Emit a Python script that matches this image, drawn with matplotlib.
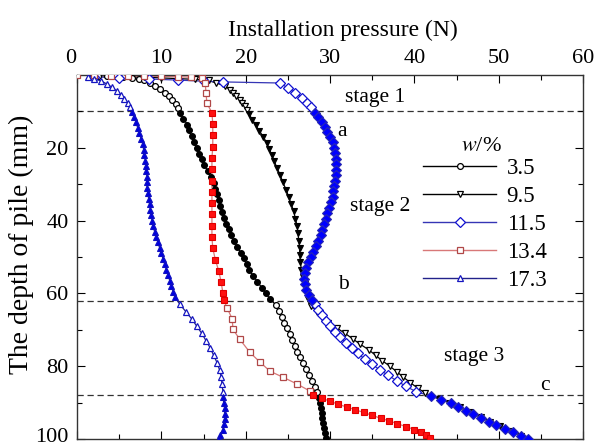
import matplotlib
matplotlib.use("Agg")
import matplotlib.pyplot as plt
from matplotlib.lines import Line2D
from matplotlib.transforms import ScaledTranslation
import numpy as np

plt.rcParams['font.family'] = ['Liberation Serif', 'DejaVu Serif']
plt.rcParams['mathtext.fontset'] = 'stix'

# ---- data: (depth mm, pressure N) ----
w_labels = ["3.5", "9.5", "11.5", "13.4", "17.3"]

d_35 = [0.2, 0.3, 0.4, 0.5, 0.7, 1.0, 1.5, 2.2, 3.0, 3.9, 4.9, 5.9, 7.0, 8.1, 9.2,
        10.4, 12.0, 13.6, 15.2, 16.8, 18.4, 20.0, 21.6, 23.2, 24.8, 26.4, 28.0, 29.6, 31.2,
        32.8, 34.4, 36.0, 37.6, 39.2, 40.8, 42.4, 44.0, 45.6, 47.2, 48.8, 50.4, 52.0, 53.6,
        55.2, 56.8, 58.4, 60.0, 61.6,
        63.2, 64.8, 66.4, 68.0, 69.6, 71.2, 72.8, 74.4, 76.0, 77.6, 79.2, 80.8, 82.4, 84.0,
        85.6, 87.2,
        88.6, 90.0, 91.4, 92.8, 94.2, 95.6, 97.0, 98.4, 99.8]
p_35 = [2.5, 3.5, 4.5, 5.5, 6.5, 7.3, 8.0, 8.7, 9.3, 9.9, 10.4, 10.9, 11.3, 11.7, 12.0,
        12.2, 12.6, 13.1, 13.3, 13.6, 13.9, 14.2, 14.5, 14.8, 15.1, 15.5, 15.9, 16.2, 16.4,
        16.6, 16.8, 17.0, 17.2, 17.4, 17.7, 18.0, 18.3, 18.6, 19.0, 19.4, 19.8, 20.1, 20.4,
        20.9, 21.4, 21.9, 22.4, 22.9,
        23.6, 23.9, 24.3, 24.6, 24.9, 25.2, 25.5, 25.8, 26.1, 26.5, 26.8, 27.2, 27.5, 27.9,
        28.2, 28.5,
        28.7, 28.8, 28.9, 29.0, 29.1, 29.2, 29.3, 29.4, 29.5]

d_95 = [0.3, 0.4, 0.6, 0.8, 1.0, 1.2, 1.5, 2.2, 3.0, 4.0, 4.9, 5.9, 6.8, 7.7, 8.6, 9.5,
        10.8, 12.3, 13.8, 15.3, 17.0, 18.7, 20.4, 22.0, 23.7, 25.5, 27.5, 29.5, 31.5, 33.5,
        35.5, 37.5, 39.5, 41.5, 43.5, 45.5, 47.5, 49.5, 51.5, 53.5, 55.5, 57.5, 59.5, 61.5,
        63.5, 65.0, 66.5, 68.0, 69.5, 71.0, 72.5, 74.0, 75.5, 77.0, 78.5, 80.0, 81.5, 83.0,
        84.5, 86.0, 87.4,
        89.0, 90.0, 91.3, 92.6, 93.9, 95.2, 96.5, 97.8, 99.1]
p_95 = [4.0, 6.0, 8.0, 10.0, 12.0, 14.0, 15.6, 16.5, 17.6, 18.1, 18.5, 18.9, 19.3, 19.6, 19.9, 20.2,
        20.4, 20.8, 21.2, 21.6, 22.1, 22.5, 22.8, 23.1, 23.4, 23.7, 24.1, 24.4, 24.8, 25.1,
        25.4, 25.7, 25.9, 26.1, 26.2, 26.3, 26.4, 26.4, 26.5, 26.6, 26.8, 27.0, 27.2, 27.4,
        27.8, 28.5, 29.1, 29.8, 30.8, 31.8, 32.7, 33.6, 34.6, 35.4, 36.2, 37.1, 37.9, 38.7,
        39.5, 40.4, 41.3,
        42.9, 44.1, 45.4, 46.6, 47.9, 49.0, 50.2, 51.5, 52.7]

d_115 = [0.5, 0.8, 1.1, 1.4, 1.7, 1.9, 2.2, 3.6, 4.9, 6.3, 7.7, 8.9,
         10.4, 11.6, 12.9, 14.2, 15.6, 17.0, 18.5, 20.0, 21.5, 23.0, 24.5, 26.0, 27.5, 29.0,
         30.5, 32.0, 33.5, 35.0, 36.5, 38.0, 39.5, 41.0, 42.5, 44.0, 45.5, 47.0, 48.5, 50.0,
         51.5, 53.0, 54.5, 56.0, 57.5, 59.0, 60.5, 61.8,
         63.0, 64.5, 66.0, 67.5, 69.0, 70.5, 72.0, 73.5, 75.0, 76.5, 78.0, 79.5, 81.0, 82.5,
         84.0, 85.5, 87.0,
         88.2, 89.2, 90.2, 91.2, 92.2, 93.2, 94.2, 95.2, 96.2, 97.2, 98.2, 99.2, 100.0]
p_115 = [2.0, 5.0, 8.5, 12.0, 15.0, 17.3, 24.1, 25.0, 25.9, 26.7, 27.3, 27.7,
         28.2, 28.6, 29.0, 29.4, 29.7, 30.0, 30.3, 30.5, 30.6, 30.7, 30.7, 30.7, 30.7, 30.6,
         30.5, 30.4, 30.3, 30.1, 29.9, 29.7, 29.5, 29.3, 29.1, 28.9, 28.6, 28.3, 28.0, 27.7,
         27.4, 27.2, 27.0, 26.9, 27.0, 27.2, 27.5, 27.9,
         28.2, 28.6, 29.0, 29.5, 30.0, 30.6, 31.2, 31.9, 32.6, 33.3, 34.1, 35.0, 35.9, 36.9,
         37.9, 39.0, 40.2,
         42.0, 43.2, 44.3, 45.2, 46.1, 47.0, 47.9, 48.8, 49.7, 50.7, 51.7, 52.7, 53.5]

d_134 = [0.0, 0.1, 0.2, 0.3, 0.3, 0.4, 0.5, 0.6, 0.8, 2.2, 4.9, 7.7,
         10.4, 13.5, 16.6, 19.7, 22.8, 25.9, 29.0, 32.1, 35.2, 38.3, 41.4, 44.5, 47.6, 50.7,
         53.8, 56.9, 60.0, 61.8,
         64.0, 67.0, 69.9, 72.6, 76.2, 78.9, 81.4, 83.0, 84.9, 86.8,
         88.0, 88.8, 89.6, 90.5, 91.2, 92.0, 92.7, 93.5, 94.3, 95.0, 95.8, 96.6, 97.4, 98.2,
         99.0, 99.6]
p_134 = [0.0, 2.0, 4.0, 6.0, 8.0, 10.0, 12.0, 13.5, 14.8, 15.2, 15.3, 15.4,
         16.0, 16.1, 16.1, 16.1, 16.0, 16.0, 16.0, 16.0, 16.0, 16.0, 16.0, 16.0, 16.1, 16.4,
         16.8, 17.1, 17.3, 17.4,
         17.8, 18.4, 18.5, 19.3, 20.5, 21.7, 22.9, 24.4, 26.1, 27.6,
         28.0, 29.0, 30.0, 31.0, 32.0, 33.0, 34.0, 35.0, 36.0, 37.0, 38.0, 39.0, 40.0, 40.8,
         41.4, 41.8]

d_173 = [0.5, 1.0, 1.6, 2.4, 3.3, 4.3, 5.4, 6.5, 7.6, 8.8,
         10.2, 11.6, 13.0, 14.5, 16.0, 17.5, 19.0, 20.5, 22.0, 23.5, 25.0, 26.5, 28.0, 29.5,
         31.0, 32.5, 34.0, 35.5, 37.0, 38.5, 40.0, 41.5, 43.0, 44.5, 46.0, 47.5, 49.0, 50.5,
         52.0, 53.5, 55.0, 56.5, 58.0, 59.5, 61.0,
         63.0, 65.0, 67.0, 69.0, 71.0, 73.0, 75.0, 77.0, 79.0, 81.0, 83.0, 85.0, 87.0,
         88.5, 90.0, 91.5, 93.0, 94.5, 96.0, 97.5, 99.0, 100.0]
p_173 = [1.3, 2.0, 2.8, 3.5, 4.1, 4.7, 5.2, 5.6, 6.0, 6.3,
         6.5, 6.8, 7.0, 7.2, 7.4, 7.6, 7.8, 7.9, 8.0, 8.1, 8.2, 8.2, 8.3, 8.3,
         8.3, 8.4, 8.5, 8.6, 8.7, 8.8, 8.9, 9.0, 9.2, 9.4, 9.6, 9.8, 10.0, 10.2,
         10.4, 10.6, 10.8, 11.0, 11.2, 11.4, 11.6,
         12.2, 12.9, 13.6, 14.2, 14.8, 15.3, 15.8, 16.2, 16.6, 16.9, 17.1, 17.2, 17.3,
         17.3, 17.4, 17.5, 17.5, 17.5, 17.4, 17.3, 17.0, 16.8]

stage_lines = [10, 62, 88]

series = [
    (d_35, p_35, 'o', 'black', 'black', 'black', 'black', 4.2),
    (d_95, p_95, 'v', 'black', 'black', 'black', 'black', 4.8),
    (d_115, p_115, 'D', '#3535b5', '#1010d0', '#0000ff', '#2a2ab0', 5.0),
    (d_134, p_134, 's', '#d87878', '#b04848', '#ff1010', '#e00000', 4.8),
    (d_173, p_173, '^', '#22228a', '#1515c0', '#0000e0', '#1010c0', 4.8),
]

fig = plt.figure(figsize=(5.98, 4.48), dpi=100)
ax = fig.add_axes([77/598, 9/448, 506/598, 364/448])

for y in stage_lines:
    ax.axhline(y, color='#333333', lw=0.9, ls=(0, (5, 3)), zorder=1)

handles = []
for d, p, mk, lc, oec, ffc, fec, ms in series:
    d = np.asarray(d, float); p = np.asarray(p, float)
    ax.plot(p, d, '-', color=lc, lw=0.9, zorder=2)
    openm = (d < 10) | ((d > 62) & (d < 88))
    ax.plot(p[openm], d[openm], ls='none', marker=mk, ms=ms, mfc='white',
            mec=oec, mew=0.9, zorder=3)
    ax.plot(p[~openm], d[~openm], ls='none', marker=mk, ms=ms, mfc=ffc,
            mec=fec, mew=0.8, zorder=3)
    handles.append(Line2D([], [], color=lc, lw=1.0, marker=mk, ms=ms, mfc='white',
                          mec=oec, mew=0.9))

ax.set_xlim(0, 60)
ax.set_ylim(100, 0)
ax.set_xticks(np.arange(0, 61, 10))
ax.set_xticks(np.arange(0, 61, 5), minor=True)
ax.set_yticks(np.arange(20, 101, 20))
ax.set_yticks(np.arange(10, 101, 10), minor=True)
ax.tick_params(axis='both', which='both', direction='in', top=True, bottom=True,
               left=True, right=True, labeltop=True, labelbottom=False, labelsize=16)
ax.tick_params(which='major', length=6, width=0.8)
ax.tick_params(which='minor', length=3.5, width=0.8)
ax.tick_params(axis='x', pad=5)
ax.tick_params(axis='y', pad=6)
for s in ax.spines.values():
    s.set_linewidth(1.0)
    s.set_color('#333333')

# the "0" label sits slightly left in the reference
t0 = ax.xaxis.get_major_ticks()[0].label2
t0.set_transform(t0.get_transform() + ScaledTranslation(-6/100, 0, fig.dpi_scale_trans))
# the "100" label sits slightly above its tick in the reference
t100 = ax.yaxis.get_major_ticks()[-1].label1
t100.set_transform(t100.get_transform() + ScaledTranslation(0, 4/100, fig.dpi_scale_trans))

ax.xaxis.set_label_position('top')
ax.set_xlabel('Installation pressure (N)', fontsize=17)
ax.set_ylabel('The depth of pile (mm)', fontsize=20)
ax.xaxis.set_label_coords(0.525, 1.107)
ax.yaxis.set_label_coords(-0.085, 0.535)

txt = dict(fontsize=15.5, ha='center', va='center')
ax.text(35.3, 6.3, 'stage 1', **txt)
ax.text(31.4, 15.6, 'a', **txt)
ax.text(36.0, 36.2, 'stage 2', **txt)
ax.text(31.6, 57.5, 'b', **txt)
ax.text(47.1, 77.2, 'stage 3', **txt)
ax.text(55.5, 85.3, 'c', **txt)
ax.text(48.0, 19.7, r'$w$/%', fontsize=16, ha='center', va='center')

ax.legend(handles, w_labels, loc='upper left', bbox_to_anchor=(0.684, 0.772),
          frameon=False, fontsize=16.5, handlelength=3.2, handletextpad=0.45,
          labelspacing=0.3, borderpad=0, borderaxespad=0)

fig.savefig('out.png', dpi=100)
